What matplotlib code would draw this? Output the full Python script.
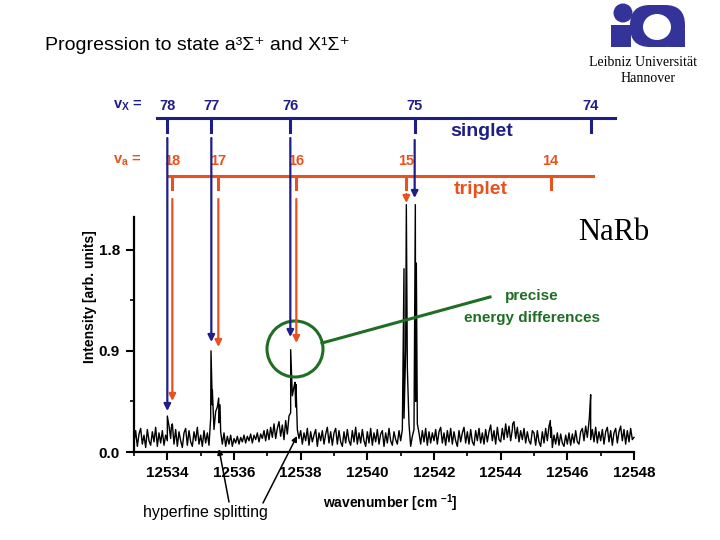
import numpy as np
import matplotlib
matplotlib.use('Agg')
import matplotlib.pyplot as plt
from matplotlib.patches import Circle, Ellipse, FancyBboxPatch, Rectangle
from matplotlib.transforms import blended_transform_factory

plt.rcParams['font.family'] = ['Liberation Sans', 'DejaVu Sans']
plt.rcParams['mathtext.fontset'] = 'custom'
plt.rcParams['mathtext.rm'] = 'Liberation Sans'
plt.rcParams['mathtext.it'] = 'Liberation Sans'
plt.rcParams['mathtext.bf'] = 'Liberation Sans:bold'

# spectrum: baseline read on a 0.05 cm-1 grid, plus the narrow lines on top
wn_start = 12533.0
wn_step = 0.05
baseline = [
    0.08, 0.19, 0.05, 0.16, 0.21, 0.07, 0.15, 0.04, 0.20, 0.10, 0.06, 0.18, 0.09, 0.22, 0.05, 0.17, 0.08, 0.19, 0.06, 0.15,  # 12533
    0.10, 0.23, 0.12, 0.25, 0.07, 0.20, 0.05, 0.18, 0.10, 0.04, 0.17, 0.21, 0.06, 0.19, 0.09, 0.05, 0.18, 0.10, 0.22, 0.07,  # 12534
    0.15, 0.05, 0.19, 0.08, 0.17, 0.06, 0.30, 0.42, 0.20, 0.36, 0.40, 0.26, 0.18, 0.07, 0.17, 0.05, 0.14, 0.07, 0.15, 0.05,  # 12535
    0.12, 0.08, 0.14, 0.07, 0.13, 0.09, 0.15, 0.08, 0.14, 0.10, 0.16, 0.08, 0.15, 0.11, 0.17, 0.09, 0.16, 0.12, 0.19, 0.10,  # 12536
    0.20, 0.11, 0.22, 0.13, 0.25, 0.12, 0.21, 0.27, 0.14, 0.24, 0.11, 0.28, 0.16, 0.32, 0.35, 0.50, 0.58, 0.40, 0.20, 0.12,  # 12537
    0.19, 0.07, 0.17, 0.10, 0.21, 0.06, 0.18, 0.09, 0.15, 0.20, 0.05, 0.17, 0.10, 0.19, 0.07, 0.16, 0.22, 0.08, 0.18, 0.06,  # 12538
    0.17, 0.21, 0.07, 0.19, 0.09, 0.05, 0.18, 0.08, 0.20, 0.10, 0.06, 0.19, 0.09, 0.22, 0.07, 0.17, 0.08, 0.20, 0.10, 0.05,  # 12539
    0.18, 0.08, 0.21, 0.06, 0.17, 0.09, 0.20, 0.07, 0.16, 0.19, 0.05, 0.17, 0.08, 0.21, 0.10, 0.06, 0.18, 0.11, 0.07, 0.19,  # 12540
    0.10, 0.20, 0.30, 0.90, 0.75, 0.25, 0.05, 0.14, 0.20, 0.45, 0.25, 0.17, 0.07, 0.19, 0.09, 0.21, 0.06, 0.18, 0.08, 0.17,  # 12541
    0.10, 0.20, 0.07, 0.18, 0.22, 0.08, 0.17, 0.06, 0.19, 0.09, 0.21, 0.07, 0.18, 0.10, 0.05, 0.19, 0.09, 0.17, 0.22, 0.08,  # 12542
    0.18, 0.07, 0.20, 0.09, 0.06, 0.19, 0.10, 0.21, 0.08, 0.17, 0.07, 0.20, 0.09, 0.18, 0.24, 0.10, 0.19, 0.07, 0.22, 0.11,  # 12543
    0.09, 0.21, 0.11, 0.25, 0.13, 0.23, 0.10, 0.20, 0.27, 0.12, 0.22, 0.09, 0.19, 0.11, 0.21, 0.08, 0.18, 0.10, 0.07, 0.19,  # 12544
    0.17, 0.06, 0.19, 0.09, 0.05, 0.18, 0.08, 0.21, 0.10, 0.23, 0.13, 0.04, 0.15, 0.07, 0.17, 0.06, 0.16, 0.08, 0.05, 0.15,  # 12545
    0.07, 0.17, 0.06, 0.16, 0.08, 0.19, 0.09, 0.07, 0.18, 0.21, 0.10, 0.23, 0.13, 0.27, 0.11, 0.20, 0.09, 0.22, 0.08, 0.18,  # 12546
    0.10, 0.20, 0.07, 0.18, 0.22, 0.09, 0.19, 0.06, 0.17, 0.21, 0.08, 0.18, 0.23, 0.10, 0.20, 0.07, 0.19, 0.09, 0.21, 0.11,  # 12547
    0.13,
]
line_pos = [12534.00, 12534.12, 12535.31, 12535.35, 12535.54, 12535.58, 12537.70, 12537.83, 12537.86,
            12541.10, 12541.17, 12541.44, 12541.47, 12544.36, 12545.49, 12545.52, 12546.66, 12546.70]
line_height = [0.32, 0.22, 0.90, 0.55, 0.48, 0.42, 0.91, 0.62, 0.60,
               1.63, 2.20, 2.20, 1.68, 0.25, 0.28, 0.22, 0.30, 0.51]

# assignment ladders
singlet_wn = [12534.00, 12535.32, 12537.69, 12541.42, 12546.70]
singlet_v = [78, 77, 76, 75, 74]
triplet_wn = [12534.15, 12535.53, 12537.87, 12541.17, 12545.50]
triplet_v = [18, 17, 16, 15, 14]

xticks = [12534, 12536, 12538, 12540, 12542, 12544, 12546, 12548]
yticks = [0.0, 0.9, 1.8]

BLUE = '#1e1e88'
ORANGE = '#e8521e'
GREEN = '#1f6e24'
LOGO = '#33339a'

fig = plt.figure(figsize=(7.2, 5.4), dpi=100)
ax = fig.add_axes([134 / 720, 88 / 540, 500 / 720, 235 / 540])

grid = wn_start + wn_step * np.arange(len(baseline))
wn = np.concatenate([grid, line_pos])
inten = np.concatenate([baseline, line_height])
order = np.argsort(wn)
ax.plot(wn[order], inten[order], color='black', lw=1.0, clip_on=False, zorder=3)

ax.set_xlim(12533, 12548)
ax.set_ylim(0, 2.09)
ax.set_xticks(xticks)
ax.set_xticks(np.arange(12533, 12548, 2), minor=True)
ax.set_yticks(yticks)
ax.set_yticks([0.45, 1.35], minor=True)
ax.set_yticklabels([f'{v:.1f}' for v in yticks])
for s in ['top', 'right']:
    ax.spines[s].set_visible(False)
for s in ['left', 'bottom']:
    ax.spines[s].set_linewidth(1.6)
ax.tick_params(which='major', direction='out', length=6, width=1.5, labelsize=11, pad=4)
ax.tick_params(which='minor', direction='out', length=3, width=1.2)
for lab in ax.get_xticklabels() + ax.get_yticklabels():
    lab.set_fontweight('bold')
ax.patch.set_alpha(0)

# overlay in pixel units for the slide decorations
over = fig.add_axes([0, 0, 1, 1])
over.set_xlim(0, 720)
over.set_ylim(540, 0)
over.axis('off')
trans = blended_transform_factory(ax.transData, over.transData)

fig.text(45 / 720, 1 - 46 / 540, 'Progression to state a³Σ⁺ and X¹Σ⁺',
         fontsize=14, va='center', ha='left')

# logo
over.add_patch(FancyBboxPatch((630, 5), 55, 42, boxstyle='round,pad=0,rounding_size=20', color=LOGO, lw=0))
over.add_patch(Rectangle((668, 30), 17, 17, color=LOGO, lw=0))
over.add_patch(Ellipse((657, 27), 28, 26, color='white', lw=0))
over.add_patch(Circle((623, 13), 9.5, color=LOGO, lw=0))
over.add_patch(Rectangle((611, 25), 20, 22, color=LOGO, lw=0))
over.text(643, 62, 'Leibniz Universität', family='Liberation Serif', fontsize=10, ha='center', va='center')
over.text(648, 79, 'Hannover', family='Liberation Serif', fontsize=10, ha='center', va='center')

# singlet ladder
over.plot([157, 615], [118, 118], color=BLUE, lw=2.2, clip_on=False)
over.text(113, 106, r'v$_\mathbf{X}$ =', color=BLUE, fontsize=10.5, fontweight='bold', ha='left', va='center')
for x, v in zip(singlet_wn, singlet_v):
    over.plot([x, x], [118, 132], color=BLUE, lw=2.2, transform=trans, clip_on=False)
    over.text(x, 106, str(v), color=BLUE, fontsize=10.5, fontweight='bold', ha='center', va='center',
              transform=trans)
over.text(482, 132, 'singlet', color=BLUE, fontsize=14, fontweight='bold', ha='center', va='center')

# triplet ladder
over.plot([169, 593], [176, 176], color=ORANGE, lw=2.2, clip_on=False)
over.text(113, 161, r'v$_\mathbf{a}$ =', color=ORANGE, fontsize=10.5, fontweight='bold', ha='left', va='center')
for x, v in zip(triplet_wn, triplet_v):
    over.plot([x, x], [176, 189], color=ORANGE, lw=2.2, transform=trans, clip_on=False)
    over.text(x, 161, str(v), color=ORANGE, fontsize=10.5, fontweight='bold', ha='center', va='center',
              transform=trans)
over.text(481, 189, 'triplet', color=ORANGE, fontsize=14, fontweight='bold', ha='center', va='center')

# arrows down to the assigned lines (start row, tip row in pixels)
blue_rows = [(138, 411), (138, 342), (138, 337), (140, 198)]
orange_rows = [(199, 401), (199, 347), (199, 343), (194, 203)]
for x, (y0, y1) in zip(singlet_wn, blue_rows):
    over.annotate('', xy=(x, y1), xycoords=trans, xytext=(x, y0), textcoords=trans,
                  arrowprops=dict(arrowstyle='-|>', color=BLUE, lw=1.6, mutation_scale=10,
                                  shrinkA=0, shrinkB=0))
for x, (y0, y1) in zip(triplet_wn, orange_rows):
    over.annotate('', xy=(x, y1), xycoords=trans, xytext=(x, y0), textcoords=trans,
                  arrowprops=dict(arrowstyle='-|>', color=ORANGE, lw=1.6, mutation_scale=10,
                                  shrinkA=0, shrinkB=0))

over.text(614, 232, 'NaRb', family='Liberation Serif', fontsize=22, ha='center', va='center')

# precise energy differences
over.add_patch(Circle((295, 349), 28, fill=False, ec=GREEN, lw=2.2))
over.plot([322, 490], [343, 297], color=GREEN, lw=2.2)
over.text(532, 296, 'precise', color=GREEN, fontsize=11, fontweight='bold', ha='center', va='center')
over.text(532, 318, 'energy differences', color=GREEN, fontsize=11, fontweight='bold', ha='center', va='center')

# hyperfine splitting
over.text(205, 512, 'hyperfine splitting', fontsize=11.5, ha='center', va='center')
for x0, y0, x1, y1 in [(229, 502, 219, 449), (263, 503, 297, 436)]:
    over.annotate('', xy=(x1, y1), xytext=(x0, y0),
                  arrowprops=dict(arrowstyle='-|>', color='black', lw=1.1, mutation_scale=8,
                                  shrinkA=0, shrinkB=0))

over.text(390, 503, r'wavenumber [cm $^{\mathbf{-1}}$]', fontsize=10, fontweight='bold', ha='center', va='center')
over.text(90, 297, 'Intensity [arb. units]', fontsize=10, fontweight='bold', rotation=90,
          ha='center', va='center')

fig.savefig('out.png', dpi=100)
